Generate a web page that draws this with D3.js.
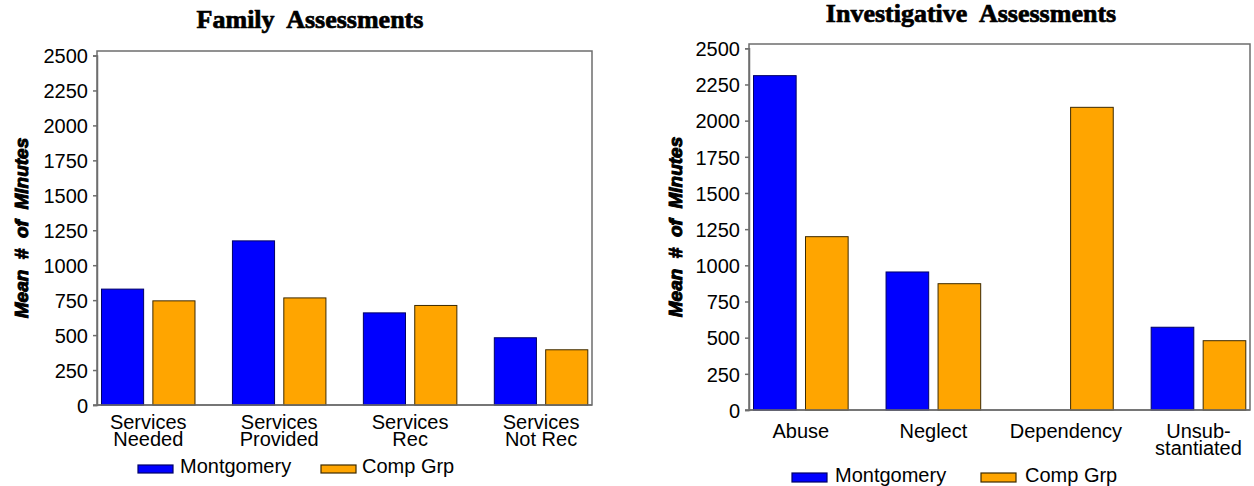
<!DOCTYPE html>
<html>
<head>
<meta charset="utf-8">
<script src="https://cdn.jsdelivr.net/npm/d3@7/dist/d3.min.js"></script>
<style>
  body { margin: 0; background: #fff; }
  text { font-family: "Liberation Sans", Arial, sans-serif; fill: #000; }
  .title { font-family: "Liberation Serif", "Times New Roman", serif; font-weight: bold; font-size: 26px; white-space: pre; stroke: #000; stroke-width: 0.7px; }
  .ylab { font-weight: bold; font-style: italic; font-size: 19px; white-space: pre; stroke: #000; stroke-width: 1px; }
  .tick text { font-size: 20px; }
  .cat { font-size: 20px; }
  .leg { font-size: 20px; }
</style>
</head>
<body>
<script>
// values
var famCategories = [["Services", "Needed"], ["Services", "Provided"], ["Services", "Rec"], ["Services", "Not Rec"]];
var famMontgomery = [829, 1174, 659, 481];
var famCompGrp = [745, 766, 712, 395];

var invCategories = [["Abuse"], ["Neglect"], ["Dependency"], ["Unsub-", "stantiated"]];
var invMontgomery = [2311, 954, null, 572];   // no bar for Dependency
var invCompGrp = [1198, 873, 2092, 479];

var seriesNames = ["Montgomery", "Comp Grp"];
var seriesColors = ["#0000ff", "#ffa500"];
var seriesStroke = ["#000066", "#3d2a00"];
var yTicks = [0, 250, 500, 750, 1000, 1250, 1500, 1750, 2000, 2250, 2500];

var width = 1254, height = 486;

var svg = d3.select("body").append("svg")
	.attr("width", width)
	.attr("height", height);

// layout for each panel
var panels = [
	{
		title: "Family  Assessments", categories: famCategories, series: [famMontgomery, famCompGrp],
		left: 97, right: 592, top: 51, y0: 405, yMax: 55.5,
		titleX: 310, titleY: 28, labX: 28,
		catY: 429, legY: 465, legH: 8, legText: 472.5, legX: [138, 321], legTextX: [180, 362]
	},
	{
		title: "Investigative  Assessments", categories: invCategories, series: [invMontgomery, invCompGrp],
		left: 749, right: 1250, top: 44, y0: 410, yMax: 48.3,
		titleX: 971, titleY: 22, labX: 682,
		catY: 438, legY: 473, legH: 9, legText: 481.5, legX: [792, 981], legTextX: [835, 1025]
	}
];

panels.forEach(function(p) {
	var g = svg.append("g");

	var yScale = d3.scaleLinear()
		.domain([0, 2500])
		.range([p.y0, p.yMax]);

	var keys = p.categories.map(function(c, i) { return i; });
	var xScale = d3.scaleBand()
		.domain(keys)
		.range([p.left + 4.5, p.right - 4.2])
		.paddingInner(0.286)
		.paddingOuter(0);
	var xInner = d3.scaleBand()
		.domain([0, 1])
		.range([0, xScale.bandwidth()])
		.paddingInner(0.18);

	// frame
	g.append("path")
		.attr("d", "M" + p.left + "," + p.y0 + "V" + p.top + "H" + p.right + "V" + p.y0 + "H" + p.left)
		.attr("fill", "none")
		.attr("stroke", "#6e6e6e")
		.attr("stroke-width", 1.5);

	// bars
	p.series.forEach(function(vals, s) {
		g.selectAll(".bar" + s)
			.data(vals.map(function(v, i) { return {i: i, v: v}; }).filter(function(d) { return d.v != null; }))
			.enter()
			.append("rect")
			.attr("x", function(d) { return xScale(d.i) + xInner(s); })
			.attr("y", function(d) { return yScale(d.v); })
			.attr("width", xInner.bandwidth())
			.attr("height", function(d) { return yScale(0) - yScale(d.v); })
			.attr("fill", seriesColors[s])
			.attr("stroke", seriesStroke[s])
			.attr("stroke-width", 1);
	});

	// y axis
	var yAxis = d3.axisLeft(yScale)
		.tickValues(yTicks)
		.tickSize(4)
		.tickPadding(5)
		.tickFormat(d3.format("d"));
	var ax = g.append("g")
		.attr("transform", "translate(" + p.left + ",0)")
		.call(yAxis);
	ax.select(".domain").attr("stroke", "#6e6e6e").attr("stroke-width", 1.5);
	ax.selectAll(".tick line").attr("stroke", "#6e6e6e").attr("stroke-width", 1.5);
	ax.selectAll(".tick text").attr("font-family", null).attr("font-size", null).attr("dy", "0.36em");

	// baseline
	g.append("line")
		.attr("x1", p.left - 4).attr("x2", p.right)
		.attr("y1", yScale(0)).attr("y2", yScale(0))
		.attr("stroke", "#6e6e6e").attr("stroke-width", 1.5);

	// category labels, one text per line
	p.categories.forEach(function(lines, i) {
		lines.forEach(function(l, k) {
			g.append("text")
				.attr("class", "cat")
				.attr("text-anchor", "middle")
				.attr("x", xScale(i) + xScale.bandwidth() / 2)
				.attr("y", p.catY + k * 17)
				.text(l);
		});
	});

	// title
	g.append("text")
		.attr("class", "title")
		.attr("text-anchor", "middle")
		.attr("x", p.titleX)
		.attr("y", p.titleY)
		.text(p.title);

	// y label
	g.append("text")
		.attr("class", "ylab")
		.attr("text-anchor", "middle")
		.attr("transform", "translate(" + p.labX + "," + ((p.top + p.y0) / 2) + ") rotate(-90)")
		.text("Mean  #  of  Minutes");

	// legend
	seriesNames.forEach(function(name, s) {
		g.append("rect")
			.attr("x", p.legX[s]).attr("y", p.legY)
			.attr("width", 35).attr("height", p.legH)
			.attr("fill", seriesColors[s])
			.attr("stroke", seriesStroke[s])
			.attr("stroke-width", 1.2);
		g.append("text")
			.attr("class", "leg")
			.attr("x", p.legTextX[s])
			.attr("y", p.legText)
			.text(name);
	});
});
</script>
</body>
</html>
